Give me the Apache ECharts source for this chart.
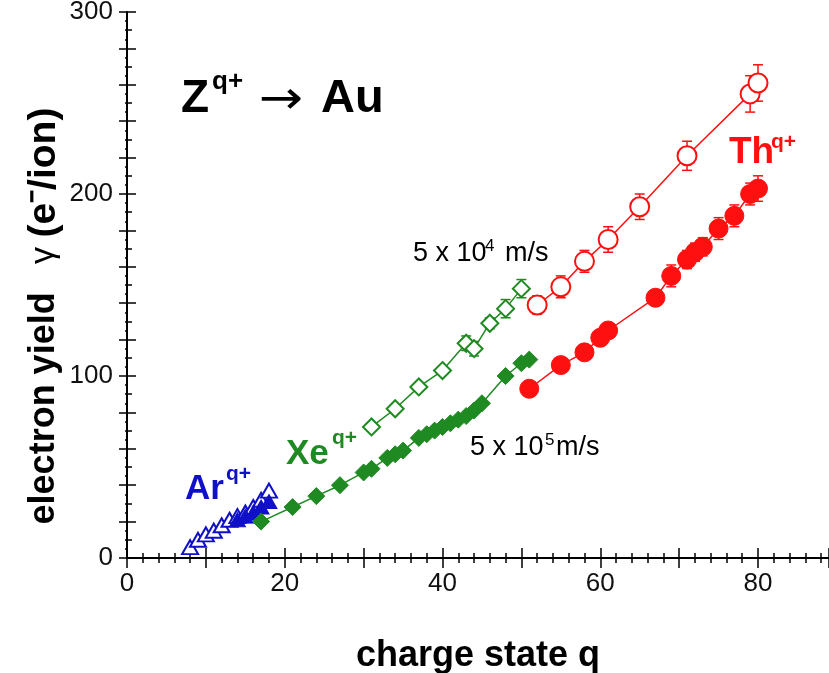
<!DOCTYPE html>
<html>
<head>
<meta charset="utf-8">
<script src="https://cdn.jsdelivr.net/npm/echarts@6/dist/echarts.min.js"></script>
<style>
  html, body { margin: 0; padding: 0; background: #fff; }
  #chart { width: 829px; height: 673px; }
</style>
</head>
<body>
<div id="chart"></div>
<script>
// Electron yield (electrons per ion) versus projectile charge state q, Z^q+ on Au.
// Open symbols: 5 x 10^4 m/s, filled symbols: 5 x 10^5 m/s.

// Ar^q+
const arSlow = [[8, 6], [9, 10], [10, 13], [11, 15], [12, 18], [13, 21], [14, 23], [15, 25], [16, 28], [17, 32], [18, 37]];
const arFast = [[14, 21], [15, 23], [16, 25], [17, 28], [18, 31]];

// Xe^q+
const xeSlow = [[31, 72], [34, 82], [37, 94], [40, 103], [43, 118], [44, 115], [46, 129], [48, 137], [50, 148]];
const xeSlowErr = [2, 2, 2, 2, 4, 4, 3, 5, 5];
const xeFast = [[17, 20], [21, 28], [24, 34], [27, 40], [30, 47], [31, 49], [33, 55], [34, 57], [35, 59],
                [37, 66], [38, 68], [39, 70], [40, 72], [41, 74], [42, 76], [43, 78], [44, 81], [45, 85],
                [48, 100], [50, 107], [51, 109]];

// Th^q+
const thSlow = [[52, 139], [55, 149], [58, 163], [61, 175], [65, 193], [71, 221], [79, 255], [80, 261]];
const thSlowErr = [5, 6, 6, 7, 7, 8, 10, 10];
const thFast = [[51, 93], [55, 106], [58, 113], [60, 121], [61, 125], [67, 143], [69, 155], [71, 164],
                [72, 168], [73, 171], [75, 181], [77, 188], [79, 200], [80, 203]];
const thFastErr = [2, 3, 3, 4, 4, 4, 6, 5, 5, 5, 6, 6, 6, 7];

// Axis ticks
const xTickStep = 10;
const xLabelStep = 20;
const yTickStep = 20;
const yLabelStep = 100;

const RED = '#ff1010';
const GREEN = '#1f8a22';
const BLUE = '#1010c8';
const FONT = '"Liberation Sans", Arial, Helvetica, sans-serif';

function errorBars(points, errs, color) {
  return {
    type: 'custom',
    silent: true,
    z: 1,
    data: points.map((p, i) => [p[0], p[1] - errs[i], p[1] + errs[i]]),
    encode: { x: 0, y: [1, 2] },
    renderItem: function (params, api) {
      const lo = api.coord([api.value(0), api.value(1)]);
      const hi = api.coord([api.value(0), api.value(2)]);
      const w = 5;
      const st = { stroke: color, lineWidth: 1.5 };
      return {
        type: 'group',
        children: [
          { type: 'line', shape: { x1: lo[0], y1: lo[1], x2: hi[0], y2: hi[1] }, style: st },
          { type: 'line', shape: { x1: lo[0] - w, y1: lo[1], x2: lo[0] + w, y2: lo[1] }, style: st },
          { type: 'line', shape: { x1: hi[0] - w, y1: hi[1], x2: hi[0] + w, y2: hi[1] }, style: st }
        ]
      };
    }
  };
}

function curve(points, color, symbol, size, open) {
  return {
    type: 'line',
    data: points,
    z: 3,
    symbol: symbol,
    symbolSize: size,
    showAllSymbol: true,
    lineStyle: { color: color, width: 1.5 },
    itemStyle: open
      ? { color: '#ffffff', borderColor: color, borderWidth: 2 }
      : { color: color, borderColor: color, borderWidth: 1 },
    emphasis: { disabled: true },
    animation: false
  };
}

function txt(x, y, text, size, weight, color, family, sx) {
  return {
    type: 'text', x: x, y: y, silent: true, scaleX: sx || 1,
    style: {
      text: text, fill: color || '#000',
      font: (weight || 'normal') + ' ' + size + 'px ' + (family || FONT),
      align: 'left', verticalAlign: 'middle'
    }
  };
}

const axisLineStyle = { show: true, lineStyle: { color: '#000', width: 2 } };

const chart = echarts.init(document.getElementById('chart'));
chart.setOption({
  animation: false,
  backgroundColor: '#ffffff',
  grid: { left: 127, right: 0, top: 12, bottom: 115, containLabel: false, outerBoundsMode: 'none' },
  xAxis: [
    {
      type: 'value', position: 'bottom', min: 0, max: 89, interval: xTickStep,
      axisLine: axisLineStyle,
      axisTick: { inside: true, length: 10, lineStyle: { color: '#000', width: 1.5 } },
      minorTick: { show: true, splitNumber: 5, length: 5, lineStyle: { color: '#000', width: 1.5 } },
      splitLine: { show: false },
      axisLabel: {
        showMaxLabel: false, margin: 13, color: '#111', fontSize: 26, fontFamily: FONT,
        formatter: v => (v % xLabelStep === 0 ? String(v) : '')
      },
      name: 'charge state q', nameLocation: 'middle', nameGap: 80,
      nameTextStyle: { fontSize: 36, fontWeight: 'bold', color: '#000', fontFamily: FONT }
    },
    {
      type: 'value', position: 'top', min: 0, max: 89, interval: xTickStep,
      axisLine: axisLineStyle,
      axisTick: { inside: true, length: 10, lineStyle: { color: '#000', width: 1.5 } },
      minorTick: { show: true, splitNumber: 5, length: 5, lineStyle: { color: '#000', width: 1.5 } },
      splitLine: { show: false },
      axisLabel: { show: false }
    }
  ],
  yAxis: [
    {
      type: 'value', position: 'left', min: 0, max: 300, interval: yTickStep,
      axisLine: axisLineStyle,
      axisTick: { inside: true, length: 9, lineStyle: { color: '#000', width: 1.5 } },
      minorTick: { show: true, splitNumber: 2, length: 5, lineStyle: { color: '#000', width: 1.5 } },
      splitLine: { show: false },
      axisLabel: {
        margin: 14, color: '#111', fontSize: 26, fontFamily: FONT,
        formatter: v => (v % yLabelStep === 0 ? String(v) : '')
      }
    },
    {
      type: 'value', position: 'right', min: 0, max: 300, interval: yTickStep,
      axisLine: { show: false },
      axisTick: { show: true, inside: true, length: 8, lineStyle: { color: '#000', width: 1.5 } },
      minorTick: { show: true, splitNumber: 4, length: 2, lineStyle: { color: '#000', width: 1.5 } },
      splitLine: { show: false },
      axisLabel: { show: false }
    }
  ],
  series: [
    errorBars(xeSlow, xeSlowErr, GREEN),
    errorBars(thSlow, thSlowErr, RED),
    errorBars(thFast, thFastErr, RED),
    curve(arSlow, BLUE, 'triangle', [16, 14], true),
    curve(arFast, BLUE, 'triangle', [16, 14], false),
    curve(xeSlow, GREEN, 'diamond', 17, true),
    curve(xeFast, GREEN, 'diamond', 17, false),
    curve(thSlow, RED, 'circle', 19, true),
    curve(thFast, RED, 'circle', 19, false)
  ],
  graphic: [
    // y-axis title
    {
      type: 'text', x: 44, y: 316, rotation: Math.PI / 2, silent: true,
      style: {
        text: '{b|electron yield}{g|   γ }{p|(e⁻/ion)}',
        align: 'center', verticalAlign: 'middle',
        rich: {
          b: { font: 'bold 36px ' + FONT, fill: '#000' },
          g: { font: 'normal 34px ' + FONT, fill: '#000' },
          p: { font: 'bold 39px ' + FONT, fill: '#000' }
        }
      }
    },
    // reaction label
    txt(181, 99, 'Z', 46, 'bold'),
    txt(212, 82, 'q+', 26, 'bold'),
    txt(259, 101, '→', 46, 'normal', '#000', '"DejaVu Sans", ' + FONT, 1.15),
    txt(321, 99, 'Au', 47, 'bold'),
    // ion labels
    txt(729, 153, 'Th', 37, 'bold', RED),
    txt(771, 142, 'q+', 21, 'bold', RED),
    txt(286, 454, 'Xe', 35, 'bold', GREEN),
    txt(332, 438, 'q+', 21, 'bold', GREEN),
    txt(185, 489, 'Ar', 35, 'bold', BLUE),
    txt(226, 474, 'q+', 21, 'bold', BLUE),
    // velocity labels
    txt(413, 254, '5 x 10', 27, 'normal'),
    txt(485, 246, '4', 17, 'normal'),
    txt(505, 254, 'm/s', 27, 'normal'),
    txt(470, 448, '5 x 10', 27, 'normal'),
    txt(545, 440, '5', 17, 'normal'),
    txt(556, 448, 'm/s', 27, 'normal')
  ]
});
</script>
</body>
</html>
